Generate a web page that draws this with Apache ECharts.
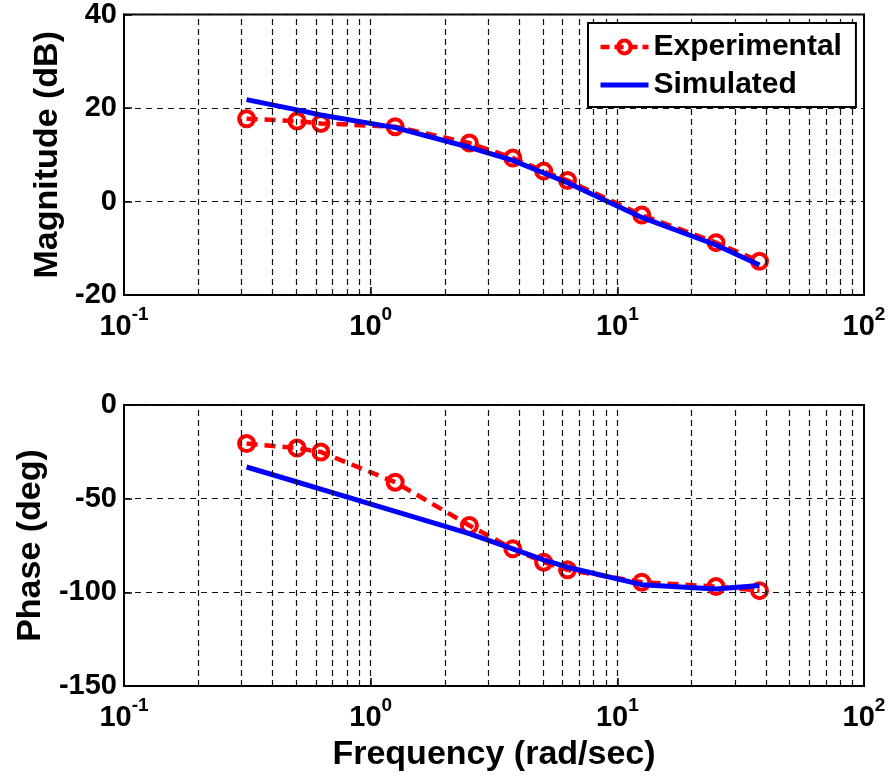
<!DOCTYPE html>
<html>
<head>
<meta charset="utf-8">
<script src="https://cdn.jsdelivr.net/npm/echarts@6/dist/echarts.min.js"></script>
<style>
html,body{margin:0;padding:0;background:#fff;}
#chart{width:893px;height:780px;}
</style>
</head>
<body>
<div id="chart"></div>
<script>
// Frequencies (rad/sec)
var freq = [0.314, 0.503, 0.628, 1.257, 2.513, 3.770, 5.027, 6.283, 12.566, 25.133, 37.699];
// Magnitude (dB)
var magExp = [17.7, 17.2, 16.7, 16.0, 12.5, 9.3, 6.5, 4.5, -2.9, -8.8, -12.8];
var magSim = [21.8, 19.6, 18.5, 15.8, 11.6, 8.8, 6.1, 4.0, -3.4, -9.3, -13.6];
// Phase (deg)
var phaseExp = [-20.6, -23.0, -25.1, -41.2, -64.3, -76.8, -83.9, -88.0, -94.6, -96.9, -99.1];
var phaseSim = [-33.1, -41.1, -44.9, -56.8, -68.7, -76.8, -82.7, -86.6, -95.9, -98.2, -96.4];
// Grid line positions on the log frequency axis
var freqGrid = [0.2,0.3,0.4,0.5,0.6,0.7,0.8,0.9,1,2,3,4,5,6,7,8,9,10,20,30,40,50,60,70,80,90];
var magTicks = {min: -20, max: 40, interval: 20};
var phaseTicks = {min: -150, max: 0, interval: 50};

var FONT = '"Liberation Sans", Arial, Helvetica, sans-serif';

function pairs(xs, ys) { return xs.map(function (x, i) { return [x, ys[i]]; }); }

function xAxisCfg(gridIndex, withName) {
  var cfg = {
    type: 'log', logBase: 10, min: 0.1, max: 100, gridIndex: gridIndex,
    axisLine: {show: true, onZero: false, lineStyle: {color: '#000', width: 2}},
    axisTick: {show: true, inside: true, length: 8, lineStyle: {color: '#000', width: 1.5}},
    splitLine: {show: false},
    axisLabel: {
      margin: 10,
      fontFamily: FONT,
      formatter: function (v) {
        var e = Math.round(Math.log(v) / Math.LN10);
        return '{b|10}{s|' + e + '}';
      },
      rich: {
        b: {fontSize: 29, fontWeight: 'bold', fontFamily: FONT, color: '#000', lineHeight: 36, verticalAlign: 'bottom'},
        s: {fontSize: 19, fontWeight: 'bold', fontFamily: FONT, color: '#000', lineHeight: 20, verticalAlign: 'top'}
      }
    }
  };
  if (withName) {
    cfg.name = 'Frequency (rad/sec)';
    cfg.nameLocation = 'middle';
    cfg.nameGap = 52;
    cfg.nameTextStyle = {fontSize: 34, fontWeight: 'bold', fontFamily: FONT, color: '#000'};
  }
  return cfg;
}

function yAxisCfg(gridIndex, ticks, name, gap) {
  return {
    type: 'value', gridIndex: gridIndex,
    min: ticks.min, max: ticks.max, interval: ticks.interval,
    name: name, nameLocation: 'middle', nameGap: gap,
    nameTextStyle: {fontSize: 34, fontWeight: 'bold', fontFamily: FONT, color: '#000'},
    axisLine: {show: true, onZero: false, lineStyle: {color: '#000', width: 2}},
    axisTick: {show: true, inside: true, length: 8, lineStyle: {color: '#000', width: 1.5}},
    splitLine: {show: true, lineStyle: {color: '#111', width: 1.2, type: [6, 5]}},
    axisLabel: {margin: 7, fontSize: 29, fontWeight: 'bold', fontFamily: FONT, color: '#000'}
  };
}

function gridLineSeries(idx) {
  return {
    type: 'line', xAxisIndex: idx, yAxisIndex: idx, data: [], silent: true, z: 1,
    markLine: {
      silent: true, symbol: ['none', 'none'], animation: false,
      label: {show: false},
      lineStyle: {color: '#111', width: 1.2, type: [6, 4]},
      data: freqGrid.map(function (f) { return {xAxis: f}; })
    }
  };
}

var expStyle = {
  type: 'line', name: 'Experimental', color: '#ff0000',
  symbol: 'circle', symbolSize: 15, showSymbol: true,
  itemStyle: {color: 'rgba(255,255,255,0)', borderColor: '#ff0000', borderWidth: 4},
  lineStyle: {color: '#ff0000', width: 4.5, type: [11, 7]},
  z: 3, animation: false
};
var simStyle = {
  type: 'line', name: 'Simulated', color: '#0000ff',
  symbol: 'none', showSymbol: false,
  lineStyle: {color: '#0000ff', width: 5},
  z: 4, animation: false
};

var option = {
  backgroundColor: '#fff',
  animation: false,
  grid: [
    {left: 124, top: 14, width: 740, height: 281, show: true, borderColor: '#000', borderWidth: 2, backgroundColor: '#fff'},
    {left: 124, top: 405, width: 740, height: 281, show: true, borderColor: '#000', borderWidth: 2, backgroundColor: '#fff'}
  ],
  xAxis: [xAxisCfg(0, false), xAxisCfg(1, true)],
  yAxis: [
    yAxisCfg(0, magTicks, 'Magnitude (dB)', 58),
    yAxisCfg(1, phaseTicks, 'Phase (deg)', 74)
  ],
  legend: {
    data: [
      {name: 'Experimental', itemStyle: {color: 'rgba(255,255,255,0)', borderColor: '#ff0000', borderWidth: 4}, lineStyle: {width: 4.5, type: [9, 5]}},
      {name: 'Simulated', itemStyle: {color: 'rgba(0,0,0,0)', borderWidth: 0, opacity: 0}, lineStyle: {width: 5, type: 'solid'}}
    ],
    orient: 'vertical', left: 588, top: 23,
    padding: [9, 14, 7, 10],
    itemWidth: 48, itemHeight: 16, itemGap: 8,
    backgroundColor: '#fff', borderColor: '#000', borderWidth: 2,
    textStyle: {fontSize: 30, fontWeight: 'bold', fontFamily: FONT, color: '#000', lineHeight: 30},
    selectedMode: false, z: 10
  },
  series: [
    gridLineSeries(0),
    gridLineSeries(1),
    Object.assign({}, expStyle, {xAxisIndex: 0, yAxisIndex: 0, data: pairs(freq, magExp)}),
    Object.assign({}, simStyle, {xAxisIndex: 0, yAxisIndex: 0, data: pairs(freq, magSim)}),
    Object.assign({}, expStyle, {xAxisIndex: 1, yAxisIndex: 1, data: pairs(freq, phaseExp)}),
    Object.assign({}, simStyle, {xAxisIndex: 1, yAxisIndex: 1, data: pairs(freq, phaseSim)})
  ]
};

var chart = echarts.init(document.getElementById('chart'), null, {renderer: 'canvas'});
chart.setOption(option);
</script>
</body>
</html>
